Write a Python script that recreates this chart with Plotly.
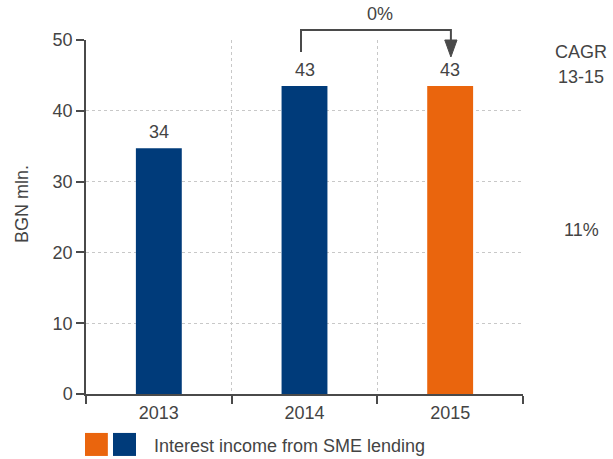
import plotly.graph_objects as go

years = ["2013", "2014", "2015"]
values = [34.7, 43.5, 43.5]
value_labels = ["34", "43", "43"]
bar_colors = ["#003B7A", "#003B7A", "#EA650D"]
y_ticks = [0, 10, 20, 30, 40, 50]
growth_label = "0%"
cagr_label = "11%"
legend_label = "Interest income from SME lending"
y_title = "BGN mln."

FONT = "Liberation Sans"
TXT = "#444444"
FS = 18
LINE = "#4a4a4a"

xpos = list(range(len(years)))

fig = go.Figure()
fig.add_trace(go.Bar(
    x=xpos, y=values, marker=dict(color=bar_colors, line=dict(width=0)),
    width=0.315, showlegend=False, hoverinfo="skip",
))
# second x axis carries the category labels
fig.add_trace(go.Scatter(x=xpos, y=[None]*3, xaxis="x2", showlegend=False, hoverinfo="skip"))

f = dict(family=FONT, size=FS, color=TXT)
annotations = []
for xi, v, lab in zip(xpos, values, value_labels):
    annotations.append(dict(x=xi, y=v, xref="x", yref="y", text=lab, showarrow=False,
                            xanchor="center", yanchor="bottom", yshift=4, font=f))

def pa(x, y, text, **kw):
    d = dict(x=x, y=y, xref="paper", yref="paper", text=text, showarrow=False,
             xanchor="center", yanchor="middle", font=f)
    d.update(kw)
    return d

annotations += [
    pa(0.673, 1.073, growth_label),
    pa(1.133, 0.966, "CAGR"),
    pa(1.133, 0.895, "13-15"),
    pa(1.133, 0.463, cagr_label),
    pa(0.151, -0.147, legend_label, xanchor="left"),
    pa(-0.146, 0.537, y_title, textangle=-90),
]

shapes = [
    # bracket
    dict(type="path", xref="paper", yref="paper",
         path="M 0.492 0.966 L 0.492 1.028 L 0.835 1.028 L 0.835 0.99",
         line=dict(color=LINE, width=2)),
    dict(type="path", xref="paper", yref="paper",
         path="M 0.821 1.0 L 0.849 1.0 L 0.835 0.952 Z",
         fillcolor=LINE, line=dict(color=LINE, width=1)),
    # legend swatches
    dict(type="rect", xref="paper", yref="paper", x0=-0.0023, x1=0.050, y0=-0.175, y1=-0.110,
         fillcolor="#EA650D", line=dict(width=0)),
    dict(type="rect", xref="paper", yref="paper", x0=0.0618, x1=0.1144, y0=-0.175, y1=-0.110,
         fillcolor="#003B7A", line=dict(width=0)),
]

fig.update_layout(
    width=613, height=459,
    margin=dict(l=86, r=90, t=40, b=65),
    paper_bgcolor="white", plot_bgcolor="white",
    font=f,
    annotations=annotations, shapes=shapes,
    xaxis=dict(range=[-0.5, 2.5], tickvals=[-0.5, 0.5, 1.5, 2.5], ticktext=["", "", "", ""],
               showgrid=True, gridcolor="#c8c8c8", griddash="dot", gridwidth=1,
               ticks="outside", ticklen=8, tickcolor=LINE, tickwidth=1.5,
               showline=True, linecolor=LINE, linewidth=1.5, zeroline=False, fixedrange=True),
    xaxis2=dict(range=[-0.5, 2.5], overlaying="x", anchor="y", side="bottom",
                tickvals=xpos, ticktext=years, showgrid=False, ticks="", showline=False,
                zeroline=False, tickfont=f, ticklabelstandoff=6),
    yaxis=dict(range=[0, 50], tickvals=y_ticks, showgrid=True, gridcolor="#c8c8c8",
               griddash="dot", gridwidth=1, ticks="outside", ticklen=8, tickcolor=LINE,
               tickwidth=1.5, showline=True, linecolor=LINE, linewidth=1.5,
               zeroline=False, tickfont=f),
)

fig.write_html("out.html", config={"displayModeBar": False},
               post_script="document.body.style.margin='0px';")
